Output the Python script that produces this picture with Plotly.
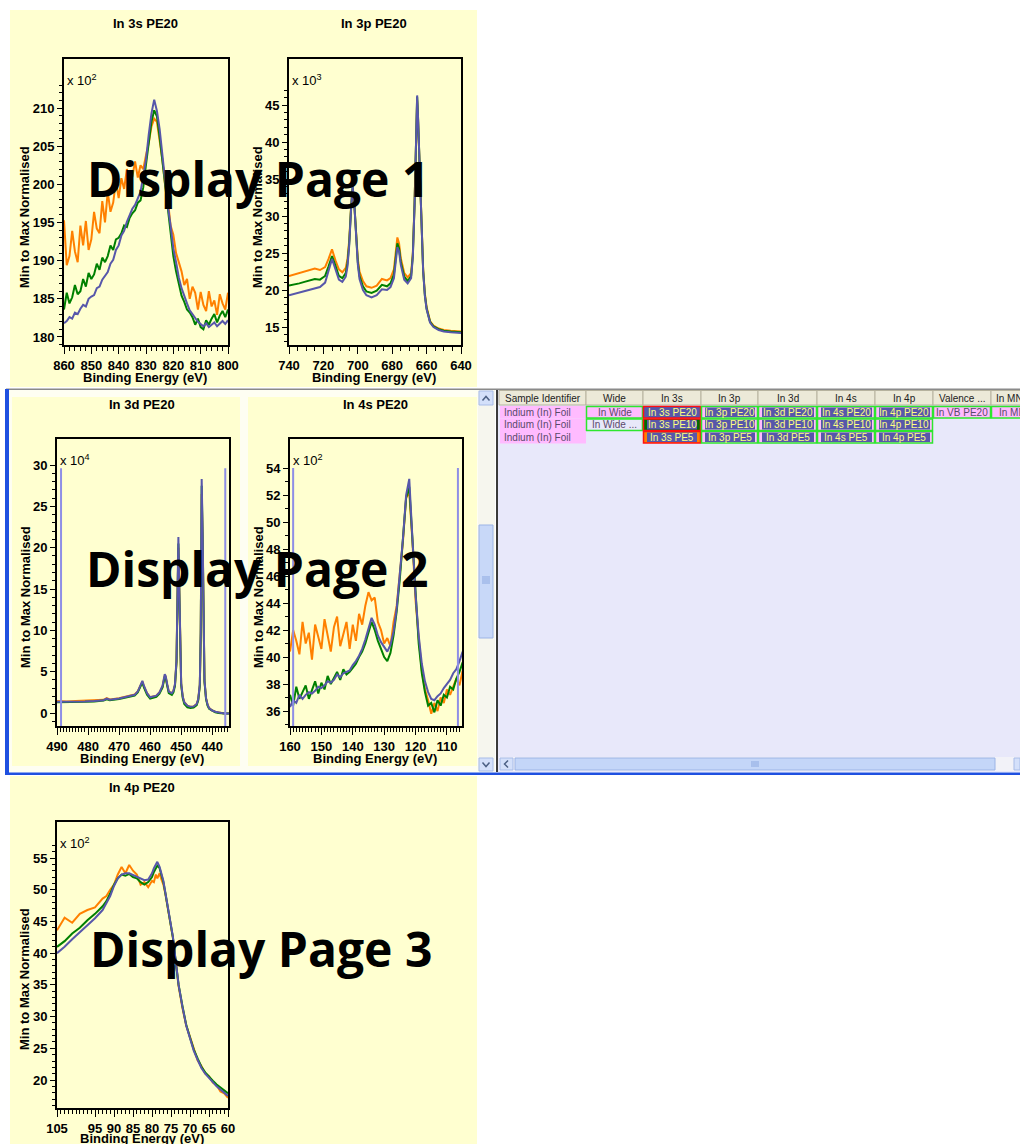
import numpy as np
import plotly.graph_objects as go

W, H = 1020, 1144

# ---------------- spectra (binding energy in eV, normalised counts) ----------------
# In 3s, counts x 10^2
be_3s = list(range(860, 799, -1))
in3s_pe20 = [181.8, 182.1, 182.6, 182.4, 183.2, 183.0, 183.7, 184.2, 184.0, 185.0,
             185.3, 185.5, 186.4, 186.6, 187.5, 188.0, 188.5, 189.6, 190.1, 191.4,
             192.0, 193.3, 193.9, 195.1, 195.9, 196.8, 197.3, 198.2, 199.0, 201.1,
             203.2, 206.5, 209.3, 211.1, 209.6, 207.2, 203.6, 200.7, 197.1, 194.6,
             191.6, 189.8, 187.8, 186.4, 185.3, 184.4, 183.5, 183.0, 182.5, 182.0,
             181.7, 181.4, 181.8, 181.3, 181.6, 181.9, 181.4, 181.7, 182.1, 181.7,
             182.2]
in3s_pe10 = [183.6, 185.8, 184.4, 185.2, 186.8, 185.6, 186.0, 187.6, 186.6, 188.4,
             187.6, 188.2, 189.6, 188.8, 190.4, 189.8, 190.6, 192.0, 191.4, 192.8,
             193.0, 193.6, 194.6, 194.4, 195.6, 196.2, 196.6, 197.6, 197.9, 199.6,
             202.6, 205.8, 208.2, 209.7, 208.9, 206.2, 203.0, 199.8, 196.3, 193.4,
             190.6, 188.6, 186.8, 185.4, 184.6, 183.6, 183.2, 182.6, 181.6, 182.4,
             181.3, 181.0, 182.2, 181.6, 182.4, 183.0, 181.9, 182.8, 183.4, 182.6,
             183.6]
in3s_pe5 = [195.3, 189.4, 190.6, 193.9, 191.2, 189.8, 194.6, 192.0, 195.2, 191.4,
            192.8, 196.4, 194.2, 193.6, 197.8, 195.0, 199.0, 196.4, 197.6, 200.4,
            198.2, 200.8, 199.4, 202.0, 200.2, 201.0, 203.0, 200.9, 202.5, 202.0,
            203.8, 205.4, 207.6, 208.6, 208.2, 205.6, 203.2, 199.8, 197.9, 194.6,
            193.4, 191.0, 189.8, 188.6, 186.8, 187.6, 185.0, 186.6, 185.8, 183.6,
            185.9, 184.2, 183.4, 186.0, 184.0, 184.8, 182.9, 185.6, 184.4, 183.6,
            185.8]

# In 3p, counts x 10^3
be_3p = [740, 737, 734, 731, 728, 725, 722, 719, 717, 715,
         713, 711, 709, 707, 706, 705, 704, 703.5, 703, 702,
         701, 700, 699, 697, 695, 692, 689, 686, 683, 681,
         679, 678, 677, 676, 675, 673, 671, 669, 668, 667,
         666, 665.5, 665, 664, 663, 662, 661, 660, 658, 656,
         653, 650, 646, 643, 640]
in3p_pe20 = [19.3, 19.5, 19.6, 19.8, 20.1, 20.3, 20.4, 21.0, 22.6, 24.2,
             22.8, 21.4, 21.1, 21.8, 23.2, 26.0, 30.5, 33.2, 34.0, 31.5,
             27.0, 23.5, 21.5, 20.0, 19.3, 19.0, 19.3, 20.1, 20.0, 20.4,
             21.6, 23.8, 25.8, 25.2, 23.4, 21.4, 20.9, 21.6, 24.5, 31.5,
             43.0, 46.3, 43.5, 36.0, 28.0, 22.5, 19.2, 17.4, 15.6, 15.0,
             14.6, 14.4, 14.3, 14.2, 14.2]
in3p_pe10 = [20.6, 20.7, 20.9, 21.1, 21.3, 21.5, 21.4, 21.9, 23.2, 24.6,
             23.3, 21.9, 21.6, 22.3, 23.6, 26.3, 30.7, 33.3, 34.0, 31.6,
             27.2, 23.8, 21.9, 20.5, 19.8, 19.6, 19.9, 20.7, 20.5, 20.9,
             22.1, 24.2, 26.3, 25.6, 23.8, 21.8, 21.2, 21.9, 24.7, 31.6,
             43.0, 46.1, 43.4, 36.0, 28.0, 22.6, 19.3, 17.5, 15.7, 15.1,
             14.7, 14.5, 14.4, 14.3, 14.3]
in3p_pe5 = [21.9, 22.1, 22.3, 22.5, 22.8, 22.9, 22.7, 23.1, 24.2, 25.5,
            24.0, 22.8, 22.4, 23.0, 24.2, 26.7, 30.9, 33.0, 33.6, 31.4,
            27.3, 24.2, 22.5, 21.2, 20.5, 20.3, 20.6, 21.5, 21.3, 21.6,
            22.8, 24.9, 27.1, 26.3, 24.3, 22.3, 21.7, 22.3, 25.0, 31.7,
            42.8, 45.6, 43.2, 36.0, 28.1, 22.8, 19.5, 17.7, 15.8, 15.2,
            14.8, 14.6, 14.5, 14.4, 14.4]

# In 3d, counts x 10^4
be_3d = [490, 487, 484, 481, 478, 475, 474, 473, 470, 467,
         465, 464, 463, 462.5, 462, 461, 460, 458, 457, 456,
         455.3, 455, 454.5, 454, 453, 452.5, 452, 451.5, 451.2, 450.9,
         450.6, 450.3, 450, 449.5, 449, 448, 447, 446, 445.5, 445,
         444.5, 444, 443.7, 443.4, 443.1, 442.8, 442.5, 442, 441.5, 441,
         440, 439, 438, 437, 436, 434.5]
in3d_pe20 = [1.35, 1.35, 1.35, 1.4, 1.45, 1.55, 1.75, 1.6, 1.75, 2.05,
             2.2, 2.6, 3.6, 3.9, 3.3, 2.4, 1.9, 2.1, 2.5, 3.3,
             4.7, 4.5, 3.5, 2.6, 2.4, 2.7, 3.5, 6.5, 14.0, 21.3,
             15.0, 7.0, 3.6, 2.0, 1.3, 0.9, 0.75, 0.8, 0.9, 1.1,
             1.7, 3.5, 10.0, 28.3, 22.0, 9.0, 4.0, 1.8, 1.0, 0.6,
             0.3, 0.15, 0.05, 0.0, -0.05, -0.05]
in3d_pe10 = [1.3, 1.3, 1.3, 1.35, 1.4, 1.5, 1.65, 1.55, 1.7, 1.95,
             2.1, 2.5, 3.4, 3.7, 3.1, 2.2, 1.75, 1.95, 2.35, 3.1,
             4.4, 4.3, 3.3, 2.4, 2.2, 2.5, 3.3, 6.2, 13.5, 20.5,
             14.5, 6.7, 3.4, 1.8, 1.1, 0.7, 0.6, 0.65, 0.75, 0.95,
             1.55, 3.3, 9.6, 27.5, 21.5, 8.7, 3.8, 1.7, 0.9, 0.5,
             0.25, 0.1, 0.0, -0.05, -0.05, -0.05]
in3d_pe5 = [1.45, 1.4, 1.45, 1.5, 1.5, 1.6, 1.8, 1.65, 1.8, 2.1,
            2.25, 2.6, 3.5, 3.8, 3.2, 2.4, 1.9, 2.1, 2.5, 3.2,
            4.5, 4.4, 3.4, 2.6, 2.4, 2.7, 3.4, 6.3, 13.6, 20.0,
            14.6, 6.8, 3.5, 1.95, 1.3, 0.9, 0.75, 0.8, 0.9, 1.1,
            1.7, 3.4, 9.7, 26.5, 21.0, 8.8, 3.9, 1.8, 1.0, 0.6,
            0.3, 0.15, 0.05, 0.0, -0.05, -0.05]

# In 4s, counts x 10^2
be_4s = list(range(160, 104, -1))
in4s_pe20 = [36.3, 36.8, 36.6, 37.2, 36.9, 37.2, 37.4, 37.3, 37.5, 37.8,
             37.7, 37.9, 38.2, 38.1, 38.3, 38.7, 38.5, 38.8, 38.9, 39.0,
             39.4, 39.7, 40.1, 40.6, 41.3, 42.1, 42.9, 42.4, 41.6, 41.1,
             40.7, 40.4, 40.9, 41.9, 43.6, 46.0, 48.8, 52.0, 53.2, 48.8,
             44.6, 41.6, 39.5, 38.2, 37.4, 36.9, 36.8, 37.1, 37.3, 37.7,
             38.0, 38.3, 38.8, 39.1, 39.7, 40.4]
in4s_pe10 = [37.2, 36.4, 37.8, 36.9, 37.4, 37.9, 36.9, 37.6, 38.2, 37.3,
             38.1, 37.6, 38.6, 38.0, 38.5, 38.9, 38.3, 39.1, 38.7, 38.9,
             39.2, 39.5, 40.0, 40.4, 41.0, 41.9, 42.6, 42.0, 41.2, 40.6,
             40.0, 39.7, 40.3, 41.6, 43.4, 45.8, 48.6, 51.8, 52.6, 48.4,
             44.2, 41.0, 38.8, 37.4, 36.4, 36.6, 35.9, 36.8, 36.4, 37.2,
             37.0, 37.8, 37.6, 38.4, 38.9, 39.6]
in4s_pe5 = [40.4, 42.0, 41.2, 40.2, 42.6, 41.0, 41.8, 39.8, 42.4, 41.4,
            40.6, 42.8, 41.6, 40.4, 42.2, 43.0, 40.8, 41.8, 42.6, 40.6,
            42.4, 41.2, 43.2, 42.4, 43.8, 44.8, 44.2, 44.4, 42.6, 42.0,
            41.0, 41.4, 40.8, 42.6, 43.8, 46.2, 48.6, 51.8, 52.2, 48.6,
            44.2, 41.4, 39.0, 37.6, 36.8, 35.8, 36.6, 36.0, 37.0, 36.6,
            37.6, 37.2, 37.8, 38.4, 37.9, 39.0]

# In 4p, counts x 10^2
be_4p = [105, 103, 101, 99, 97, 95, 93, 92, 91, 90,
         89, 88, 87, 86, 85, 84, 83, 82, 81, 80,
         79.5, 79, 78.6, 78, 77.5, 77, 76.5, 76, 75.5, 75,
         74.5, 74, 73.5, 73, 72, 71, 70, 69, 68, 67,
         66, 65, 64, 63, 62, 61, 60]
in4p_pe20 = [40.0, 41.0, 42.2, 43.3, 44.5, 45.5, 46.8, 47.8, 49.0, 50.6,
             51.8, 52.4, 52.6, 52.6, 52.3, 52.1, 51.8, 51.5, 51.6, 52.6,
             53.4, 54.0, 54.4, 53.6, 52.6, 51.4, 49.6, 47.8, 46.6, 44.8,
             42.6, 40.0, 36.9, 35.0, 31.6, 28.6, 26.6, 24.6, 23.2, 21.9,
             21.0, 20.3, 19.7, 19.0, 18.5, 18.0, 17.5]
in4p_pe10 = [41.0, 41.9, 43.1, 44.0, 45.2, 46.2, 47.4, 48.2, 49.4, 50.8,
             51.8, 52.4, 52.2, 52.5, 52.0, 51.8, 51.2, 50.8, 51.2, 52.0,
             52.8, 53.4, 53.8, 53.4, 52.4, 51.2, 49.5, 47.7, 46.5, 44.7,
             42.5, 39.9, 36.9, 35.0, 31.7, 28.7, 26.7, 24.8, 23.4, 22.1,
             21.2, 20.5, 19.9, 19.3, 18.8, 18.3, 17.9]
in4p_pe5 = [43.6, 45.6, 44.8, 46.2, 46.8, 47.2, 48.6, 49.0, 50.0, 50.8,
            52.4, 53.6, 52.6, 53.9, 53.0, 52.4, 50.8, 51.2, 50.4, 51.4,
            51.2, 52.4, 51.8, 52.6, 51.6, 50.8, 49.4, 47.6, 46.4, 44.6,
            42.4, 39.8, 36.8, 34.8, 31.4, 28.6, 26.8, 24.8, 23.1, 22.2,
            21.0, 20.6, 19.6, 19.2, 18.2, 17.9, 17.2]

panel_titles = ["In 3s PE20", "In 3p PE20", "In 3d PE20", "In 4s PE20", "In 4p PE20"]
panel_scales = ["2", "3", "4", "2", "2"]
page_labels = ["Display Page 1", "Display Page 2", "Display Page 3"]

# region markers drawn on the 3d and 4s windows (eV)
marks_3d = [488.7, 435.8]
marks_4s = [159.0, 106.5]

# experiment table
table_header = ["Sample Identifier", "Wide", "In 3s", "In 3p", "In 3d", "In 4s", "In 4p",
                "Valence ...", "In MNN"]
table_rows = [
    ["Indium (In) Foil", "In Wide", "In 3s PE20", "In 3p PE20", "In 3d PE20", "In 4s PE20",
     "In 4p PE20", "In VB PE20", "In MNN PE20"],
    ["Indium (In) Foil", "In Wide ...", "In 3s PE10", "In 3p PE10", "In 3d PE10", "In 4s PE10",
     "In 4p PE10", "", ""],
    ["Indium (In) Foil", "", "In 3s PE5", "In 3p PE5", "In 3d PE5", "In 4s PE5",
     "In 4p PE5", "", ""],
]

# ---------------- styling ----------------
C_PE20 = "#5757aa"
C_PE10 = "#008000"
C_PE5 = "#ff8000"
YELLOW = "#ffffd0"
CREAM = "#fefef2"
LAV = "#e8e8fa"
PINK = "#ffbbff"
GREEN_B = "#2ee62e"
RED_B = "#ff1010"
TXT_Y = "#ffff80"
TXT_P = "#5a4a6a"
AX_FONT = "Liberation Sans, Arial, sans-serif"


def fx(p):
    return p / W


def fy(p):
    return 1 - p / H


def rect(x0, y0, x1, y1, fill, line=None, lw=0, layer="below"):
    return dict(type="rect", xref="paper", yref="paper",
                x0=fx(x0), x1=fx(x1), y0=fy(y1), y1=fy(y0),
                fillcolor=fill, line=dict(color=line or fill, width=lw), layer=layer)


def path(points, color, width=1.5):
    d = "M " + " L ".join(f"{fx(a):.5f},{fy(b):.5f}" for a, b in points)
    return dict(type="path", xref="paper", yref="paper", path=d,
                line=dict(color=color, width=width), layer="above")


def text(x, y, s, size=13, color="black", xanchor="center", yanchor="middle",
         family=AX_FONT, angle=0):
    return dict(xref="paper", yref="paper", x=fx(x), y=fy(y), text=s, showarrow=False,
                font=dict(family=family, size=size, color=color),
                xanchor=xanchor, yanchor=yanchor, textangle=angle)


# plot frames (pixel boxes) and axis setup
panels = [
    dict(box=(64, 59, 228, 345), xr=[860, 800], yr=[178.95, 216.42],
         xtv=list(range(860, 799, -10)), xtt=None, xminor=list(range(800, 861, 2)),
         ytv=list(range(180, 211, 5)), yminor=list(range(179, 214)),
         series=(be_3s, in3s_pe5, in3s_pe10, in3s_pe20),
         title=(145, 24), xt=(145, 377), yt=(24, 217)),
    dict(box=(289, 59, 461, 345), xr=[740, 640], yr=[12.57, 51.22],
         xtv=list(range(740, 639, -20)), xtt=None, xminor=list(range(640, 741, 5)),
         ytv=list(range(15, 46, 5)), yminor=list(range(13, 48)),
         series=(be_3p, in3p_pe5, in3p_pe10, in3p_pe20),
         title=(374, 24), xt=(374, 377), yt=(257, 217)),
    dict(box=(57, 439, 229, 726), xr=[490, 434.6], yr=[-1.57, 33.15],
         xtv=list(range(490, 439, -10)), xtt=None, xminor=list(range(435, 491)),
         ytv=list(range(0, 31, 5)), yminor=list(range(-1, 31)),
         series=(be_3d, in3d_pe5, in3d_pe10, in3d_pe20),
         title=(142, 405), xt=(142, 758), yt=(25, 597)),
    dict(box=(290, 439, 462, 726), xr=[160, 105.2], yr=[34.89, 56.15],
         xtv=list(range(160, 109, -10)), xtt=None, xminor=list(range(106, 161)),
         ytv=list(range(36, 55, 2)), yminor=list(range(35, 55)),
         series=(be_4s, in4s_pe5, in4s_pe10, in4s_pe20),
         title=(375, 405), xt=(375, 758), yt=(258, 597)),
    dict(box=(57, 822, 228, 1108), xr=[105, 60], yr=[15.59, 60.68],
         xtv=list(range(105, 59, -5)),
         xtt=["105", "", "95", "90", "85", "80", "75", "70", "65", "60"],
         xminor=list(range(60, 106)),
         ytv=list(range(20, 56, 5)), yminor=list(range(16, 58)),
         series=(be_4p, in4p_pe5, in4p_pe10, in4p_pe20),
         title=(142, 787), xt=(142, 1138), yt=(24, 979)),
]

fig = go.Figure()
layout = {}
shapes = []
annotations = []

# page backgrounds
shapes += [
    rect(10, 10, 477, 387, YELLOW),
    rect(9, 390, 478, 772, CREAM),
    rect(12, 397, 240, 766, YELLOW),
    rect(248, 397, 477, 766, YELLOW),
    rect(10, 776, 477, 1144, YELLOW),
    rect(498, 390, 1020, 772, LAV),
]

tickfont = dict(family=AX_FONT, size=13, color="black", weight="bold")

for i, p in enumerate(panels):
    n = "" if i == 0 else str(i + 1)
    l, t, r, b = p["box"]
    xa = dict(domain=[fx(l), fx(r)], range=p["xr"], anchor="y" + n, automargin=False,
              showline=True, mirror=True, linecolor="black", linewidth=2,
              showgrid=False, zeroline=False, ticks="outside", ticklen=7,
              tickwidth=1, tickcolor="black", tickmode="array", tickvals=p["xtv"],
              tickfont=tickfont,
              minor=dict(tickmode="array", tickvals=p["xminor"], ticks="outside",
                         ticklen=4, tickwidth=1, tickcolor="black"))
    if p["xtt"] is not None:
        xa["ticktext"] = p["xtt"]
    ya = dict(domain=[fy(b), fy(t)], range=p["yr"], anchor="x" + n, automargin=False,
              showline=True, mirror=True, linecolor="black", linewidth=2,
              showgrid=False, zeroline=False, ticks="outside", ticklen=5,
              tickwidth=1, tickcolor="black", tickmode="array", tickvals=p["ytv"],
              tickfont=tickfont,
              minor=dict(tickmode="array", tickvals=p["yminor"], ticks="outside",
                         ticklen=3, tickwidth=1, tickcolor="black"))
    layout["xaxis" + n] = xa
    layout["yaxis" + n] = ya

    be, s5, s10, s20 = p["series"]
    for ys, col, nm in ((s5, C_PE5, "PE5"), (s10, C_PE10, "PE10"), (s20, C_PE20, "PE20")):
        fig.add_trace(go.Scatter(x=be, y=ys, mode="lines", name=nm,
                                 line=dict(color=col, width=2),
                                 xaxis="x" + n, yaxis="y" + n,
                                 showlegend=False, hoverinfo="skip"))

    annotations.append(text(*p["title"], "<b>" + panel_titles[i] + "</b>", size=13))
    annotations.append(text(*p["xt"], "<b>Binding Energy (eV)</b>", size=13))
    annotations.append(text(*p["yt"], "<b>Min to Max Normalised</b>", size=13, angle=-90))
    annotations.append(text(l + 1, t + 21, "x 10<sup>" + panel_scales[i] + "</sup>",
                            size=13, xanchor="left"))

# region markers on the 3d / 4s windows
for xv in marks_3d:
    shapes.append(dict(type="line", xref="x3", yref="y3", x0=xv, x1=xv, y0=-1.57, y1=29.6,
                       line=dict(color="#8e8ee6", width=2), layer="above"))
for xv in marks_4s:
    shapes.append(dict(type="line", xref="x4", yref="y4", x0=xv, x1=xv, y0=34.89, y1=54.0,
                       line=dict(color="#8e8ee6", width=2), layer="above"))

# window chrome: frame lines and scroll bars
shapes += [
    rect(6, 388.5, 1020, 390, "#8a8a8a"),
    rect(5, 389, 9, 775, "#1f50e0"),
    rect(5, 772.5, 1020, 775, "#1f50e0"),
    rect(478, 390, 495, 772, "#f6f6ee"),
    rect(479, 391, 493, 405, "#d4e0fa", "#a8bce8", 1),
    rect(479, 525, 493, 638, "#c8d8f8", "#9cb4e6", 1),
    rect(479, 758, 493, 771, "#d4e0fa", "#a8bce8", 1),
    rect(496, 390, 498, 772, "#3a3a3a"),
    rect(499, 757, 1020, 771, "#f2f2f8"),
    rect(500, 758, 513, 770, "#d4e0fa", "#a8bce8", 1),
    rect(515, 758, 995, 770, "#c4d6f8", "#9cb4e6", 1),
    rect(1014, 758, 1020, 770, "#d4e0fa", "#a8bce8", 1),
]
shapes += [
    path([(482.5, 400.5), (486, 396.5), (489.5, 400.5)], "#4d6185"),
    path([(482.5, 762.5), (486, 766.5), (489.5, 762.5)], "#4d6185"),
    path([(508, 760.5), (504.5, 764), (508, 767.5)], "#4d6185"),
]
for k in range(4):
    shapes.append(path([(752 + 2 * k, 761), (752 + 2 * k, 767)], "#8ca8e0", 1))
    shapes.append(path([(482, 577 + 2 * k), (490, 577 + 2 * k)], "#8ca8e0", 1))

# experiment table
col_edges = [499, 586, 643, 701, 758, 817, 875, 933, 991, 1049]
row_edges = [406, 418.5, 431, 443.5]
series_fill = [C_PE20, "#006c00", C_PE5]
TBL_FONT = "Liberation Sans, Arial, sans-serif"

for c, h in enumerate(table_header):
    x0, x1 = col_edges[c], col_edges[c + 1]
    shapes.append(rect(x0, 390.5, x1, 405, "#ece9d8", "#b6b29e", 1))
    if c == len(table_header) - 1:
        annotations.append(text(x0 + 3, 398, h, size=10, color="#222222",
                                xanchor="left", family=TBL_FONT))
    else:
        annotations.append(text((x0 + x1) / 2, 398, h, size=10, color="#222222",
                                family=TBL_FONT))

for r, row in enumerate(table_rows):
    y0, y1 = row_edges[r], row_edges[r + 1]
    ym = (y0 + y1) / 2
    for c, val in enumerate(row):
        x0, x1 = col_edges[c], col_edges[c + 1]
        xm = (x0 + x1) / 2
        if c == 0:
            shapes.append(rect(x0 + 1, y0, x1, y1, PINK))
            annotations.append(text(x0 + 3, ym, val, size=10, color=TXT_P,
                                    xanchor="left", family=TBL_FONT))
        elif c == 1:
            if not val:
                continue
            fill = PINK if r == 0 else LAV
            shapes.append(rect(x0 + 0.5, y0 + 0.5, x1 - 0.5, y1 - 0.5, fill, GREEN_B, 1.5))
            annotations.append(text(xm, ym, val, size=10, color=TXT_P, family=TBL_FONT))
        elif c == 2:
            shapes.append(rect(x0 + 0.5, y0 + 0.5, x1 - 0.5, y1 - 0.5, series_fill[r], RED_B, 1.5))
            shapes.append(rect(x0 + 4, y0 + 1.5, x1 - 4, y1 - 1.5, C_PE20))
            annotations.append(text(xm, ym, val, size=10, color=TXT_Y, family=TBL_FONT))
        elif c <= 6:
            shapes.append(rect(x0 + 0.5, y0 + 0.5, x1 - 0.5, y1 - 0.5, PINK, GREEN_B, 1.5))
            shapes.append(rect(x0 + 4, y0 + 1.5, x1 - 3, y1 - 1.5, C_PE20))
            annotations.append(text(xm, ym, val, size=10, color=TXT_Y, family=TBL_FONT))
        else:
            if not val:
                continue
            shapes.append(rect(x0 + 0.5, y0 + 0.5, x1 - 0.5, y1 - 0.5, PINK, GREEN_B, 1.5))
            if c == len(row) - 1:
                annotations.append(text(x0 + 6, ym, val, size=10, color=TXT_P,
                                        xanchor="left", family=TBL_FONT))
            else:
                annotations.append(text(xm, ym, val, size=10, color=TXT_P, family=TBL_FONT))

# page captions
for (cx, cy), s in zip([(257.5, 178.5), (256.5, 568), (260.5, 948.5)], page_labels):
    annotations.append(dict(xref="paper", yref="paper", x=fx(cx), y=fy(cy),
                            text="<b>" + s + "</b>", showarrow=False,
                            font=dict(family="Open Sans", size=48, color="black"),
                            xanchor="center", yanchor="middle"))

fig.update_layout(
    width=W, height=H, autosize=False,
    margin=dict(l=0, r=0, t=0, b=0, pad=0),
    paper_bgcolor="white", plot_bgcolor="rgba(0,0,0,0)",
    shapes=shapes, annotations=annotations, showlegend=False,
    **layout,
)

fig.write_html("out.html")
